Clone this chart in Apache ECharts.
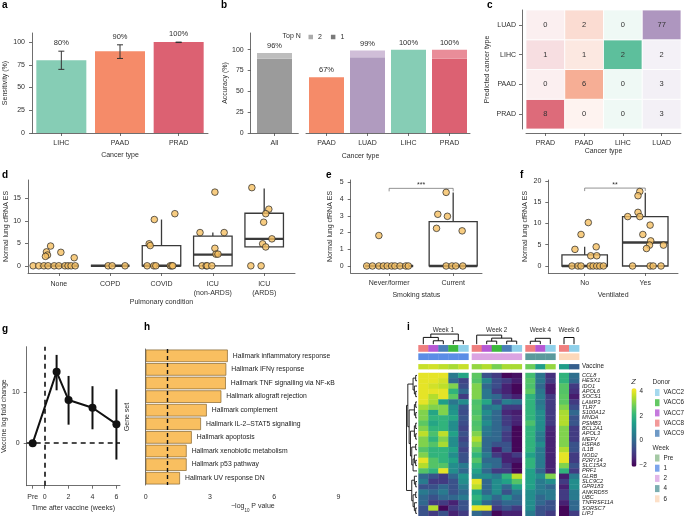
<!DOCTYPE html>
<html><head><meta charset="utf-8">
<script src="https://cdn.jsdelivr.net/npm/echarts@6/dist/echarts.min.js"></script>
<style>html,body{margin:0;padding:0;background:#fff}#c{width:685px;height:516px}</style>
</head><body><div id="c"></div>
<script>
// ================= DATA =================
// a
const aCats = ['LIHC','PAAD','PRAD'];
const aVals = [80, 90, 100];
const aLow  = [70, 82, 99.5];
const aHigh = [90, 97, 100];
// b
const bCatsAll = ['All'];
const bTop1All = [89];
const bTotalAll = [96];
const bCats = ['PAAD','LUAD','LIHC','PRAD'];
const bTop1 = [67, 91, 100, 89];
const bTotal = [67, 99, 100, 100];
// c  (rows = predicted, bottom->top PRAD,PAAD,LIHC,LUAD ; cols = actual)
const cCats = ['PRAD','PAAD','LIHC','LUAD'];
const cMatrix = [
  [8,0,0,3],
  [0,6,0,3],
  [1,1,2,2],
  [0,2,0,77]
];
// d
const dCats = ['None','COPD','COVID','ICU\n(non-ARDS)','ICU\n(ARDS)'];
const dBoxes = [ // q1, median, q3, whiskerLow, whiskerHigh
  [0,0,0,0,0],[0,0,0,0,0],[0,0,4.5,0,10.3],[0,2.5,6.6,0,7.4],[4.2,6.0,11.7,4.2,17.2]];
const dPoints = [ // [group + jitter, value]
  [-0.50,0],[-0.39,0],[-0.29,0],[-0.21,0],[-0.09,0],[0.00,0],[0.12,0],[0.18,0],[0.24,0],[0.32,0],
  [-0.16,4.4],[-0.24,3.1],[-0.22,2.4],[-0.26,2.1],[0.04,3.0],[0.30,1.8],
  [0.96,0],[1.04,0],[1.29,0],
  [1.72,0],[1.85,0],[1.89,0],[2.17,0],[2.20,0],[2.22,0],[1.76,4.9],[1.78,4.5],[1.86,10.3],[2.26,11.6],
  [2.79,0],[2.87,0],[2.89,0],[2.98,0],[2.75,7.4],[3.04,16.4],[3.04,3.9],[3.06,2.6],[3.10,2.6],[3.22,7.4],
  [3.76,17.4],[4.09,12.6],[4.03,11.6],[3.99,9.7],[3.97,4.9],[4.03,4.2],[4.15,6.0],[3.74,0],[3.94,0]];
// e
const eCats = ['Never/former','Current'];
const eBoxes = [[0,0,0,0,0],[0,0,2.65,0,4.4]];
const ePoints = [
  [-0.16,1.82],[-0.35,0],[-0.26,0],[-0.16,0],[-0.09,0],[-0.03,0],[0.04,0],[0.09,0],[0.17,0],[0.26,0],[0.30,0],
  [0.89,4.4],[0.76,3.09],[0.91,2.97],[0.74,2.25],[1.14,2.1],[0.89,0],[0.98,0],[1.04,0],[1.15,0]];
const eSig = [[0,1,4.64]];
const eSigText = '***';
// f
const fCats = ['No','Yes'];
const fBoxes = [[0,0,2.6,0,4.5],[0,5.5,11.6,0,17.2]];
const fPoints = [
  [-0.21,0],[-0.11,0],[-0.06,0],[0.09,0],[0.14,0],[0.20,0],[0.25,0],[0.31,0],
  [-0.06,7.4],[0.06,10.2],[-0.16,3.9],[0.19,4.5],[0.10,2.4],[0.20,2.4],
  [0.91,17.5],[0.88,16.5],[0.88,12.6],[0.71,11.6],[0.91,11.6],[1.08,9.6],[0.96,7.4],[1.09,5.9],
  [1.07,4.9],[1.02,4.1],[1.30,4.9],[0.79,0],[1.08,0],[1.13,0],[1.26,0]];
const fSig = [[0,1,18.3]];
const fSigText = '**';
// g
const gX = [-1, 1, 2, 4, 6];          // -1 = Pre
const gMean = [0, 13.9, 8.4, 6.9, 3.7];
const gLow  = [null, 10.3, 3.6, 2.7, -3.2];
const gHigh = [null, 17.2, 13.1, 11.1, 10.5];
const gTicks = [-1, 0, 2, 4, 6];
// h
const hSets = ['Hallmark inflammatory response','Hallmark IFNγ response','Hallmark TNF signalling via NF-κB',
  'Hallmark allograft rejection','Hallmark complement','Hallmark IL-2–STAT5 signalling','Hallmark apoptosis',
  'Hallmark xenobiotic metabolism','Hallmark p53 pathway','Hallmark UV response DN'];
const hVals = [3.83, 3.76, 3.74, 3.53, 2.85, 2.58, 2.15, 1.91, 1.91, 1.60];
// i
const genes = ['CCL8','HESX1','IDO1','APOL6','SOCS1','LAMP3','TLR7','S100A12','MNDA','PSMB3','BCL2A1','APOL3',
  'MEFV','HSPA6','IL1B','NOD2','P2RY14','SLC15A3','PRF1','GLRB','SLC9C2','GPR183','ANKRD55','UBC','TNFRSF11A','SORSC7','LIPJ'];
const blockNames = ['Week 1','Week 2','Week 4','Week 6'];
const blockSizes = [5,5,3,2];
const heatRows = [
  [4,4,4,0.5,1.6, 2.6,-0.5,-1,-2,-1.8, 2.3,0.3,-1.2, 2,0.2],
  [4,4,3.8,0,-0.8, 2.5,0.8,-0.6,-1,-1.6, 2.5,0.4,-1, 2,0],
  [4,3.8,3.6,3,-0.6, 3,0,-0.6,-1.5,-2, 2.4,0,-1.6, 2.5,-1],
  [4,4,4,2,0, 3,0.4,-1,-1.5,-2, 2.6,0.4,-1.6, 2.5,-1.2],
  [4,3.5,4,2.6,-1, 3,0.4,0,-1,-1.5, 2,0.6,-1, 2.6,-1.6],
  [4,3.4,1.4,0.4,1, 2.4,1.6,-0.6,0.6,0.4, 2,0.4,-1, 2.6,-1],
  [3.4,3,3,1,-0.4, 2.5,0.4,0.6,-1,-1, 2,0.6,-1, 3,-0.6],
  [3,1.6,3,1.2,-0.6, 2.4,1,0,-1.4,-1.6, 2,1,-1, 3.4,0],
  [3,2,2,1.6,-0.4, 2.6,0.6,0,-1,-1.4, 2,1,-1, 3.5,-0.5],
  [2.6,1.6,2,1,-0.6, 2.4,1,0,-1,-1.5, 2.4,1,-1, 3.5,-0.4],
  [3,2,2,1,-0.8, 2.5,0.5,0,-0.6,-2, 2,1,-1.4, 3,-1],
  [3.6,2.4,3.6,1.5,-0.5, 3,0.4,0,-1,-2, 2,0.6,-1.5, 3,-1],
  [3,2,3,1,-0.8, 3.5,0,0,-1,-2, 2,0.5,-1.5, 3,-1],
  [3,2.5,3.4,1,-0.5, 3,0,-0.5,-0.5,-2, 2,1,-1.5, 3,-0.5],
  [2.5,2,2,1.5,-0.8, 2.5,0,-1.6,-0.4,-2, 2,0.5,-1.5, 3.5,-0.5],
  [3,2,2,1,-0.5, 2,0.5,-1,-1.5,-1, 1.5,0.5,-1.5, 4,-1],
  [4,2.5,2,1.5,-0.5, 2.5,0,0,-1.5,-1.6, 2,0.5,-1.5, 4,-1],
  [3.5,2.5,2.5,1,0.5, 2,0.5,0,-1,-2, 2,0.5,-1.5, 3,-0.5],
  [2.5,2,4,1,0, 1.5,0,-1,-1,-2, 1.5,0,-1.5, 2,-1],
  [0,-0.5,-1,0,1.2, 1,1,0.5,2,3.6, 1.5,1,3, -1.6,0.5],
  [0.5,-1,-1,-0.5,1, 4,0,1,1.5,2.5, 1.5,0.5,1, -1,1],
  [-0.5,-0.5,0,-0.5,0.5, 3.6,0,1,0,1.5, 1.5,0.5,0, -1.5,1],
  [0.5,0,0.5,-0.5,0, 1.5,0,1,-0.5,0.5, 1,0.5,0.5, -1,0.5],
  [0,-0.5,0,0,0.5, 2,1,0,1,0, 1,0,0.5, -1,0.5],
  [0,-1,-1,-1.5,-0.5, 1.5,0,-0.5,0,0, 1,0,-0.5, -1.5,0],
  [-0.5,3.5,-2,-1,-0.5, 4,4,-1,-0.5,-1, 1,-0.5,-0.5, -2,0],
  [-0.5,-1,-0.5,-1.5,-1, 0,-0.5,-2,-1.5,-1.5, 0.5,-0.5,-1, -2,-1]
];
const vaccineVals = [3.7,3.8,3.6,3.4,3.7, 3.2,3.5,2.9,3.4,3.4, 2.8,1.4,3.2, 1.4,-0.2];
const donorNames = ['VACC2','VACC6','VACC7','VACC8','VACC9'];
const donorCols = ['VACC8','VACC7','VACC9','VACC6','VACC2', 'VACC8','VACC7','VACC6','VACC9','VACC2', 'VACC8','VACC7','VACC2', 'VACC8','VACC2'];
const weekNames = ['Pre','1','2','4','6'];
const weekCols = ['1','1','1','1','1','2','2','2','2','2','4','4','4','6','6'];
const colTrees = [ [[0,[1,2]],[3,4]], [0,[[1,2],[3,4]]], [[0,1],2], [0,1] ];
const rowTree = [[[[0,1],[2,[3,4]]], [[[5,6],[7,8]],[[[9,10],[11,12]],[[13,14],[[15,[16,17]],18]]]]],
                 [[19,[20,21]],[[22,23],[24,[25,26]]]]];
const zTicks = [-2, 0, 2, 4];

// ================= STYLE =================
const FONT = 'Liberation Sans, Arial, sans-serif';
const TXT = '#2e2e2e';
const LINE = '#4a4a4a';
const aColors = ['#86cdb5','#f58b69','#dc6172'];
const bColAll = ['#9b9b9b'], bColAll2 = ['#bdbdbd'];
const bCol1 = ['#f58b69','#b09bbf','#86cdb5','#dc6172'];
const bCol2 = ['#f9b49b','#d0bed8','#b0ddcd','#e98d99'];
const cBase = ['#d95b6b','#f28b68','#5dbf9c','#a78cb9'];
const donorColors = ['#8fd0ea','#3dba3d','#b658d4','#ef7f7f','#4a7fb8'];
const weekColors = ['#8fbc8f','#5b8de6','#dba4e2','#5a9a9c','#fcd8ba'];
const viridis = ['#440154','#482878','#3e4989','#31688e','#26828e','#1f9e89','#35b779','#6ece58','#b5de2b','#fde725'];
const PT = {color:'#f5bf62', borderColor:'#262626', borderWidth:0.9};

function merge(a,b){const r=Object.assign({},a);for(const k in b){if(b[k]&&typeof b[k]==='object'&&!Array.isArray(b[k])&&a[k]&&typeof a[k]==='object')r[k]=Object.assign({},a[k],b[k]);else r[k]=b[k];}return r;}
const baseAxis = {
  axisLine:{show:true,onZero:false,lineStyle:{color:LINE,width:0.8}},
  axisTick:{show:true,length:3,lineStyle:{color:LINE,width:0.8}},
  axisLabel:{fontSize:7,color:TXT,fontFamily:FONT,margin:7},
  splitLine:{show:false},
  nameLocation:'middle',
  nameTextStyle:{fontSize:7,color:TXT,fontFamily:FONT}
};
function ax(o){return merge(baseAxis,o);}
function mix(hex,a){const r=parseInt(hex.substr(1,2),16),g=parseInt(hex.substr(3,2),16),b=parseInt(hex.substr(5,2),16);
  const f=v=>Math.round(255+(v-255)*a);return 'rgb('+f(r)+','+f(g)+','+f(b)+')';}

// ================= RENDER HELPERS =================
function errItem(capHalf, withLabel, lw, col){
  return function(params, api){
    const x=api.value(0), lo=api.value(1), hi=api.value(2);
    const pl=api.coord([x,lo]), ph=api.coord([x,hi]);
    const st={stroke:col,lineWidth:lw};
    const ch=[{type:'line',shape:{x1:ph[0],y1:pl[1],x2:ph[0],y2:ph[1]},style:st}];
    if(capHalf>0){
      ch.push({type:'line',shape:{x1:ph[0]-capHalf,y1:ph[1],x2:ph[0]+capHalf,y2:ph[1]},style:st});
      ch.push({type:'line',shape:{x1:ph[0]-capHalf,y1:pl[1],x2:ph[0]+capHalf,y2:pl[1]},style:st});
    }
    if(withLabel){
      ch.push({type:'text',style:{text:api.value(3)+'%',x:ph[0],y:ph[1]-8,align:'center',verticalAlign:'middle',fontSize:7.5,fill:TXT,fontFamily:FONT}});
    }
    return {type:'group',children:ch};
  };
}
function boxItem(params, api){
  const x=api.value(0), q1=api.value(1), md=api.value(2), q3=api.value(3), lo=api.value(4), hi=api.value(5);
  const hw=0.375, col='#3a3a3a';
  const a=api.coord([x-hw,q3]), b=api.coord([x+hw,q1]);
  const m1=api.coord([x-hw,md]), m2=api.coord([x+hw,md]);
  const ch=[];
  if(hi>q3){const p1=api.coord([x,q3]),p2=api.coord([x,hi]);ch.push({type:'line',shape:{x1:p1[0],y1:p1[1],x2:p2[0],y2:p2[1]},style:{stroke:col,lineWidth:1.3}});}
  if(lo<q1){const p1=api.coord([x,q1]),p2=api.coord([x,lo]);ch.push({type:'line',shape:{x1:p1[0],y1:p1[1],x2:p2[0],y2:p2[1]},style:{stroke:col,lineWidth:1.3}});}
  ch.push({type:'rect',shape:{x:a[0],y:a[1],width:b[0]-a[0],height:b[1]-a[1]},style:{stroke:col,lineWidth:1.3,fill:'#fff'}});
  ch.push({type:'line',shape:{x1:m1[0],y1:m1[1],x2:m2[0],y2:m2[1]},style:{stroke:col,lineWidth:2.4}});
  return {type:'group',children:ch};
}
function bracketItem(text){
  return function(params, api){
    const p1=api.coord([api.value(0),api.value(2)]), p2=api.coord([api.value(1),api.value(2)]);
    return {type:'group',children:[
      {type:'polyline',shape:{points:[[p1[0],p1[1]+3],[p1[0],p1[1]],[p2[0],p2[1]],[p2[0],p2[1]+3]]},style:{stroke:'#666',lineWidth:0.7,fill:'none'}},
      {type:'text',style:{text:text,x:(p1[0]+p2[0])/2,y:p1[1]-3.5,align:'center',verticalAlign:'middle',fontSize:7,fill:TXT,fontFamily:FONT}}
    ]};
  };
}
function cItem(colTotals){
  return function(params, api){
    const ci=api.value(0), ri=api.value(1), v=api.value(2);
    const p=api.coord([ci,ri]), s=api.size([1,1]);
    const a=0.1+0.9*(v/colTotals[ci]);
    return {type:'group',children:[
      {type:'rect',shape:{x:p[0]-s[0]/2,y:p[1]-s[1]/2,width:s[0],height:s[1]},style:{fill:mix(cBase[ci],a),stroke:'#fff',lineWidth:0.8}},
      {type:'text',style:{text:String(v),x:p[0],y:p[1],align:'center',verticalAlign:'middle',fontSize:7.5,fill:'#333',fontFamily:FONT}}
    ]};
  };
}
function cellItem(params, api){
  const c=api.value(0), r=api.value(1);
  const p0=api.coord([c,r]), p1=api.coord([c+1,r+1]);
  return {type:'rect',shape:{x:p0[0],y:p0[1],width:p1[0]-p0[0]+0.4,height:p1[1]-p0[1]+0.4},style:{fill:api.visual('color')}};
}
const ANN = {donor:[-5.23,-3.96], week:[-3.66,-2.40], vaccine:[-1.64,-0.64]};
function annItem(range, colors){
  return function(params, api){
    const c=api.value(0);
    const p0=api.coord([c,range[0]]), p1=api.coord([c+1,range[1]]);
    const fill = colors ? colors[api.value(1)] : api.visual('color');
    return {type:'rect',shape:{x:p0[0],y:p0[1],width:p1[0]-p0[0]+0.4,height:p1[1]-p0[1]},style:{fill:fill}};
  };
}
function treeSegs(tree){
  const segs=[];
  function rec(n){
    if(typeof n==='number') return {p:n+0.5,h:0};
    const a=rec(n[0]), b=rec(n[1]);
    const h=Math.max(a.h,b.h)+1;
    segs.push([a.p,a.h,a.p,h],[b.p,b.h,b.p,h],[a.p,h,b.p,h]);
    return {p:(a.p+b.p)/2,h:h};
  }
  const root=rec(tree);
  return segs.map(s=>[s[0],s[1]/root.h,s[2],s[3]/root.h]);
}
const DLEAF=-5.4;
function dendroColItem(scale){
  return function(params, api){
    const p1=api.coord([api.value(0),DLEAF-api.value(1)*scale]), p2=api.coord([api.value(2),DLEAF-api.value(3)*scale]);
    return {type:'line',shape:{x1:p1[0],y1:p1[1],x2:p2[0],y2:p2[1]},style:{stroke:'#111',lineWidth:1}};
  };
}
function dendroRowItem(params, api){
  const p1=api.coord([api.value(1),api.value(0)]), p2=api.coord([api.value(3),api.value(2)]);
  return {type:'line',shape:{x1:p1[0],y1:p1[1],x2:p2[0],y2:p2[1]},style:{stroke:'#111',lineWidth:0.9}};
}

// ================= LAYOUT =================
const G = (l,t,w,h)=>({left:l,top:t,width:w,height:h,containLabel:false,outerBoundsMode:'none'});
const grid = [
  G(32,33,176,100), G(250.7,33,47.6,100), G(306,33,164,100), G(526,10,155,119),
  G(28,180,267,93), G(350.7,180,131.3,93), G(548.3,180,129.7,93),
  G(26.7,346.7,93.3,139), G(145.7,349,214.3,136),
  G(418.3,333,50,183), G(471.7,333,50,183), G(525.3,333,30,183), G(559,333,20,183),
  G(406.5,333,10.5,183), G(631.5,388.3,5,78.4)
];
const catTick={alignWithLabel:true};
const xAxis = [
  ax({gridIndex:0,type:'category',data:aCats,axisTick:catTick,name:'Cancer type',nameGap:18.5}),
  ax({gridIndex:1,type:'category',data:bCatsAll,axisTick:catTick}),
  ax({gridIndex:2,type:'category',data:bCats,axisTick:catTick}),
  ax({gridIndex:3,type:'category',data:cCats,axisTick:catTick,offset:4,name:'Cancer type',nameGap:14.5}),
  ax({gridIndex:4,type:'value',min:-0.6,max:4.6,axisTick:{customValues:[0,1,2,3,4]},
      axisLabel:{customValues:[0,1,2,3,4],formatter:v=>dCats[v],lineHeight:9},name:'Pulmonary condition',nameGap:25.5}),
  ax({gridIndex:5,type:'value',min:-0.6,max:1.45,axisTick:{customValues:[0,1]},
      axisLabel:{customValues:[0,1],formatter:v=>eCats[v]},name:'Smoking status',nameGap:19}),
  ax({gridIndex:6,type:'value',min:-0.6,max:1.54,axisTick:{customValues:[0,1]},
      axisLabel:{customValues:[0,1],formatter:v=>fCats[v]},name:'Ventilated',nameGap:19}),
  ax({gridIndex:7,type:'value',min:-1.5,max:6.3,axisTick:{customValues:gTicks},
      axisLabel:{customValues:gTicks,formatter:v=>v===-1?'Pre':String(v),margin:8},name:'Time after vaccine (weeks)',nameGap:19}),
  ax({gridIndex:8,type:'value',min:0,max:10,axisLine:{show:false},axisTick:{show:false},
      axisLabel:{customValues:[0,3,6,9],margin:9},
      name:'{n|−log}{s|10}{n| P value}',nameGap:18,
      nameTextStyle:{rich:{n:{fontSize:7,color:TXT,fontFamily:FONT},s:{fontSize:4.5,color:TXT,fontFamily:FONT,verticalAlign:'bottom',padding:[0,0,-3,0]}}}}),
];
blockSizes.forEach((n,b)=>xAxis.push({gridIndex:9+b,type:'value',min:0,max:n,show:false}));
xAxis.push({gridIndex:13,type:'value',min:0,max:1,inverse:true,show:false});
xAxis.push({gridIndex:14,type:'value',min:0,max:1,show:false});

const yAxis = [
  ax({gridIndex:0,type:'value',min:0,max:110,axisTick:{customValues:[0,25,50,75,100]},
      axisLabel:{customValues:[0,25,50,75,100]},name:'Sensitivity (%)',nameGap:23}),
  ax({gridIndex:1,type:'value',min:0,max:120,axisTick:{customValues:[0,25,50,75,100]},
      axisLabel:{customValues:[0,25,50,75,100]},name:'Accuracy (%)',nameGap:21}),
  {gridIndex:2,type:'value',min:0,max:120,show:false},
  ax({gridIndex:3,type:'category',data:cCats,axisTick:catTick,offset:4,axisLabel:{margin:6},name:'Predicted cancer type',nameGap:31}),
  ax({gridIndex:4,type:'value',min:-1.6,max:19.1,axisTick:{customValues:[0,5,10,15]},
      axisLabel:{customValues:[0,5,10,15]},name:'Normal lung cfRNA ES',nameGap:17}),
  ax({gridIndex:5,type:'value',min:-0.42,max:5.14,axisTick:{customValues:[0,1,2,3,4,5]},
      axisLabel:{customValues:[0,1,2,3,4,5]},name:'Normal lung cfRNA ES',nameGap:17}),
  ax({gridIndex:6,type:'value',min:-1.65,max:20.2,axisTick:{customValues:[0,5,10,15,20]},
      axisLabel:{customValues:[0,5,10,15,20]},name:'Normal lung cfRNA ES',nameGap:20}),
  ax({gridIndex:7,type:'value',min:-8.3,max:18.8,axisTick:{customValues:[0,10]},
      axisLabel:{customValues:[0,10]},name:'Vaccine log fold change',nameGap:17}),
  ax({gridIndex:8,type:'category',data:hSets,inverse:true,axisTick:{show:false},axisLabel:{show:false},name:'Gene set',nameGap:15}),
];
// gene-label axes: labels split over two right-hand axes so that neighbouring labels never collide
function geneAxis(parity){
  const vals = genes.map((g,i)=>i+0.5).filter((v,i)=>i%2===parity);
  return {gridIndex:12,type:'value',min:-7.5,max:27,inverse:true,position:'right',offset:0,
    axisLine:{show:false},axisTick:{show:false},splitLine:{show:false},
    axisLabel:{show:true,margin:3,fontSize:6.3,color:'#222',fontFamily:FONT,showMinLabel:true,showMaxLabel:true,
      customValues: parity===0 ? [-1.14].concat(vals) : vals,
      formatter:v=>v<0?'Vaccine':'{g|'+genes[Math.floor(v)]+'}',
      rich:{g:{fontStyle:'italic',fontSize:5.6,fontFamily:FONT,color:'#222'}}}};
}
blockSizes.forEach((n,b)=>{
  if(b<3) yAxis.push({gridIndex:9+b,type:'value',min:-7.5,max:27,inverse:true,show:false});
  else yAxis.push(geneAxis(0));
});
yAxis.push({gridIndex:13,type:'value',min:-7.5,max:27,inverse:true,show:false});
yAxis.push({gridIndex:14,type:'value',min:-2.1,max:4.23,position:'right',axisLine:{show:false},axisTick:{show:false},splitLine:{show:false},
  axisLabel:{customValues:zTicks,margin:3,fontSize:6.3,color:'#222',fontFamily:FONT,showMinLabel:true,showMaxLabel:true,formatter:v=>String(v).replace('-','−')}});
yAxis.push(geneAxis(1)); // index 15

// ================= SERIES =================
const series=[];
function add(s){series.push(s);return series.length-1;}
// a
add({type:'bar',xAxisIndex:0,yAxisIndex:0,barWidth:50,data:aVals.map((v,i)=>({value:v,itemStyle:{color:aColors[i]}}))});
add({type:'custom',xAxisIndex:0,yAxisIndex:0,z:4,data:aVals.map((v,i)=>[i,aLow[i],aHigh[i],v]),encode:{x:0,y:[1,2]},renderItem:errItem(3,true,1,'#333')});
// b
const bLabel=(tot)=>({show:true,position:'top',distance:3,fontSize:7.5,color:TXT,fontFamily:FONT,formatter:p=>tot[p.dataIndex]+'%'});
add({type:'bar',name:'Top 1',xAxisIndex:1,yAxisIndex:1,stack:'b1',barWidth:35,data:bTop1All.map((v,i)=>({value:v,itemStyle:{color:bColAll[i]}}))});
add({type:'bar',name:'Top 2',xAxisIndex:1,yAxisIndex:1,stack:'b1',barWidth:35,label:bLabel(bTotalAll),data:bTop1All.map((v,i)=>({value:bTotalAll[i]-v,itemStyle:{color:bColAll2[i]}}))});
add({type:'bar',name:'Top 1',xAxisIndex:2,yAxisIndex:2,stack:'b2',barWidth:35,data:bTop1.map((v,i)=>({value:v,itemStyle:{color:bCol1[i]}}))});
add({type:'bar',name:'Top 2',xAxisIndex:2,yAxisIndex:2,stack:'b2',barWidth:35,label:bLabel(bTotal),data:bTop1.map((v,i)=>({value:bTotal[i]-v,itemStyle:{color:bCol2[i]}}))});
// c
const cTotals=cCats.map((_,ci)=>cMatrix.reduce((s,row)=>s+row[ci],0));
const cData=[];cMatrix.forEach((row,ri)=>row.forEach((v,ci)=>cData.push([ci,ri,v])));
add({type:'custom',xAxisIndex:3,yAxisIndex:3,data:cData,encode:{x:0,y:1},renderItem:cItem(cTotals)});
// d e f
[[4,dBoxes,dPoints,null,null],[5,eBoxes,ePoints,eSig,eSigText],[6,fBoxes,fPoints,fSig,fSigText]].forEach(([gi,boxes,pts,sig,st])=>{
  add({type:'custom',xAxisIndex:gi,yAxisIndex:gi,z:2,data:boxes.map((b,i)=>[i].concat(b)),encode:{x:0,y:[1,2,3,4,5]},renderItem:boxItem});
  add({type:'scatter',xAxisIndex:gi,yAxisIndex:gi,z:5,symbolSize:6.6,itemStyle:PT,data:pts});
  if(sig) add({type:'custom',xAxisIndex:gi,yAxisIndex:gi,data:sig,encode:{x:[0,1],y:2},renderItem:bracketItem(st)});
});
// g
add({type:'line',xAxisIndex:7,yAxisIndex:7,z:4,data:gX.map((x,i)=>[x,gMean[i]]),symbol:'circle',symbolSize:8,
  itemStyle:{color:'#111'},lineStyle:{color:'#111',width:2},
  markLine:{symbol:'none',silent:true,label:{show:false},lineStyle:{color:'#111',type:[5,4],width:1.6},data:[{xAxis:0},{yAxis:0}]}});
add({type:'custom',xAxisIndex:7,yAxisIndex:7,z:3,data:gX.map((x,i)=>[x,gLow[i],gHigh[i]]).filter(d=>d[1]!==null),encode:{x:0,y:[1,2]},renderItem:errItem(0,false,2,'#111')});
// h
add({type:'bar',xAxisIndex:8,yAxisIndex:8,barCategoryGap:'8%',data:hVals,
  itemStyle:{color:'#f9bf60',borderColor:'#86662e',borderWidth:0.7},
  label:{show:true,position:'right',distance:5,fontSize:6.8,color:'#222',fontFamily:FONT,formatter:p=>hSets[p.dataIndex]},
  markLine:{symbol:'none',silent:true,label:{show:false},lineStyle:{color:'#111',type:[4,3],width:1.4},data:[{xAxis:1}]}});
// i
const mainIdx=[], vacIdx=[];
const treeScale=[1.9,1.7,1.1,1.25];
let off=0;
blockSizes.forEach((n,b)=>{
  const gi=9+b;
  const cells=[];
  for(let r=0;r<genes.length;r++) for(let c=0;c<n;c++) cells.push([c,r,heatRows[r][off+c]]);
  mainIdx.push(add({type:'custom',xAxisIndex:gi,yAxisIndex:gi,data:cells,encode:{x:0,y:1},renderItem:cellItem}));
  const cols=[];for(let c=0;c<n;c++)cols.push(c);
  add({type:'custom',xAxisIndex:gi,yAxisIndex:gi,data:cols.map(c=>[c,donorNames.indexOf(donorCols[off+c])]),encode:{x:0},renderItem:annItem(ANN.donor,donorColors)});
  add({type:'custom',xAxisIndex:gi,yAxisIndex:gi,data:cols.map(c=>[c,weekNames.indexOf(weekCols[off+c])]),encode:{x:0},renderItem:annItem(ANN.week,weekColors)});
  vacIdx.push(add({type:'custom',xAxisIndex:gi,yAxisIndex:gi,data:cols.map(c=>[c,vaccineVals[off+c]]),encode:{x:0},renderItem:annItem(ANN.vaccine,null)}));
  add({type:'custom',xAxisIndex:gi,yAxisIndex:gi,data:treeSegs(colTrees[b]),encode:{x:[0,2]},renderItem:dendroColItem(treeScale[b])});
  off+=n;
});
add({type:'custom',xAxisIndex:13,yAxisIndex:13,data:treeSegs(rowTree),encode:{x:[1,3],y:[0,2]},renderItem:dendroRowItem});
donorNames.forEach((d,i)=>add({type:'scatter',name:d,xAxisIndex:14,yAxisIndex:14,data:[],itemStyle:{color:donorColors[i]}}));
weekNames.forEach((w,i)=>add({type:'scatter',name:'Week '+w,xAxisIndex:14,yAxisIndex:14,data:[],itemStyle:{color:weekColors[i]}}));
add({type:'scatter',xAxisIndex:12,yAxisIndex:15,data:[]});

// ================= TEXT =================
const T=(t,x,y,o)=>({type:'text',x:x,y:y,silent:true,style:Object.assign({text:t,fontSize:7,fill:TXT,fontFamily:FONT,align:'left',verticalAlign:'middle'},o||{})});
const B=(t,x,y)=>T(t,x,y,{fontSize:10,fontWeight:'bold',fill:'#000'});
const graphic=[
  B('a',2,5),B('b',221,5),B('c',487,5),B('d',2,175),B('e',326,175),B('f',520,175),B('g',2,329),B('h',144,327),B('i',407,327),
  T('Top N',282.5,36.5,{fontSize:7}),
  T('Cancer type',360.5,156,{align:'center'}),
  T('Z',633.5,382,{fontStyle:'italic',fontSize:7.5,align:'center'}),
  T('Donor',652.5,382,{fontSize:6.5}),
  T('Week',652.5,448,{fontSize:6.5})
];
const blkLeft=[418.3,471.7,525.3,559];
blockNames.forEach((n,b)=>graphic.push(T(n,blkLeft[b]+blockSizes[b]*5,330,{align:'center',fontSize:6.3})));

const legendBase={orient:'vertical',icon:'rect',itemWidth:4.5,itemHeight:7,itemGap:2.2,padding:0,selectedMode:false,
  textStyle:{fontSize:6.3,color:'#222',fontFamily:FONT,lineHeight:8,padding:[0,0,0,-1]}};
const option={
  animation:false,
  backgroundColor:'#fff',
  textStyle:{fontFamily:FONT},
  grid:grid, xAxis:xAxis, yAxis:yAxis, series:series, graphic:graphic,
  legend:[
    {orient:'horizontal',icon:'rect',left:308.5,top:33.5,itemWidth:4.5,itemHeight:4.5,itemGap:9,padding:0,selectedMode:false,
     textStyle:{fontSize:7,color:TXT,fontFamily:FONT},formatter:n=>n.replace('Top ',''),
     data:[{name:'Top 2',itemStyle:{color:'#ababab'}},{name:'Top 1',itemStyle:{color:'#7a7a7a'}}]},
    Object.assign({},legendBase,{left:655,top:388.5,data:donorNames}),
    Object.assign({},legendBase,{left:655,top:454,data:weekNames.map(w=>'Week '+w),formatter:n=>n.replace('Week ','')})
  ],
  visualMap:[
    {type:'continuous',min:-2.1,max:4.23,dimension:2,seriesIndex:mainIdx,inRange:{color:viridis},show:true,orient:'vertical',
     left:631.5,top:388.3,itemWidth:5,itemHeight:78.4,padding:0,calculable:false,hoverLink:false,textStyle:{fontSize:0}},
    {type:'continuous',min:-2.1,max:4.23,dimension:1,seriesIndex:vacIdx,inRange:{color:viridis},show:false}
  ]
};
const chart=echarts.init(document.getElementById('c'),null,{width:685,height:516});
chart.setOption(option);
</script></body></html>
